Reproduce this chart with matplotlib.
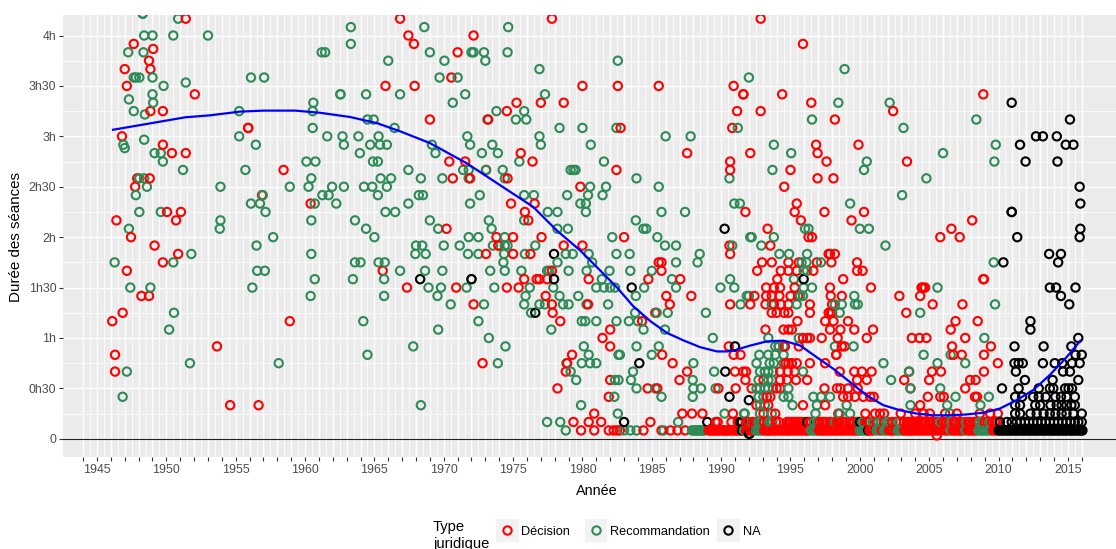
# -*- coding: utf-8 -*-
import numpy as np
import matplotlib
matplotlib.use('Agg')
import matplotlib.pyplot as plt
from matplotlib.patches import Rectangle
from matplotlib.lines import Line2D

plt.rcParams['font.family'] = ['Liberation Sans', 'DejaVu Sans']

W, H = 1116, 549
RED, GREEN, BLACK = '#FF0000', '#2E8B57', '#000000'

# durations in minutes, and for each one the years of the seances
dec_mins = [250, 240, 235, 232, 230, 225, 220, 215, 210, 205, 200, 195, 190, 185, 180, 175, 170, 165, 160, 155,
            150, 145, 140, 135, 130, 125, 120, 115, 110, 105, 100, 95, 90, 85, 80, 75, 70, 65, 60, 55, 50, 45,
            40, 35, 30, 25, 20, 15, 10, 5, 2]
dec_years = [
    [1951.4, 1966.85, 1977.8, 1992.85],
    [1967.45, 1972.15],
    [1947.65, 1967.85, 1995.9],
    [1949.05],
    [1971],
    [1948.75],
    [1947, 1948.85],
    [1970.55],
    [1947.15, 1965.8, 1967.9, 1980, 1982.55, 1985.5, 1990.9],
    [1952.05, 1991.6, 1991.6, 1994.4, 2008.9],
    [1975.25, 1977, 1978.65, 1996.5],
    [1948.85, 1949.75, 1974.55, 1991.15, 1992.85, 2002.4],
    [1969, 1973.2, 1998.2],
    [1955.9, 1955.9, 1982.75, 1990.8],
    [1946.8],
    [1949.75, 1996.85, 1999.9],
    [1950.4, 1951.4, 1975.55, 1987.55, 1992.1, 1996.95],
    [1970.4, 1971.55, 1976.4, 1990.65, 1997.6, 2003.4],
    [1958.45, 1973.05, 1982.45, 1990.65, 1995],
    [1947.9, 1948.8, 1970.65, 1971.9, 1974.6, 1996.95, 1998.1],
    [1947.75, 1979.85, 1994.55],
    [1956.9],
    [1960.4, 1974.85, 1976.55, 1995.45],
    [1950.05, 1951.05, 1975.85, 1991.75, 1995.3, 1997.45, 2000.3],
    [1946.4, 1950.7, 1976.1, 1995.75, 1999.4, 2008.1],
    [1970.2, 1993.35, 2006.6],
    [1947.45, 1973.8, 1975, 1977.05, 1983, 1996.3, 1996.55, 2005.8, 2007.2],
    [1949.15, 1973.95, 1973.95, 1978.65, 1980, 1990.6, 1993.55],
    [1950.85, 1973.05, 1975, 1976.25, 1990.65, 1997.75, 1997.85, 1998.2],
    [1949.75, 1985.5, 1985.7, 1992.95, 1993.65, 1994.85, 1995.6, 1996.9, 1997.95, 1999.8],
    [1947.15, 1965.6, 1977.8, 1985.7, 1992.6, 1994.3, 1994.85, 1995.45, 1996.65, 1999.8, 2000.2],
    [1975.8, 1976.7, 1976.9, 1977.45, 1980.45, 1984.75, 1987.05, 1994.05, 1998.8, 2008.9, 2008.95],
    [1967.35, 1970.9, 1974.55, 1975.4, 1993.25, 1993.8, 1994.25, 1995.3, 1997.85, 2000.8, 2004.45, 2004.7, 2004.55],
    [1948.2, 1948.75, 1977.35, 1986.05, 1987.85, 1992.4, 1993.25, 1993.65, 1994.2, 1995, 1995.55, 1997.9, 1998.7, 2002.85, 2004.35],
    [1972.15, 1977.8, 1980.4, 1986.3, 1990.65, 1992.1, 1993.2, 1993.8, 1994.3, 1994.85, 1996.4, 1998, 2005.25, 2007.4],
    [1946.85, 1977.85, 1985.25, 1993.65, 1994, 1994.55, 1994.85, 1996.4, 1997.75, 1997.9, 1998, 2003.35],
    [1946.1, 1958.9, 1978.4, 1984.3, 1995.5, 1997.5, 1998.1, 1999.15, 2006.9, 2008.5],
    [1982, 1993.2, 1994.5, 1994.85, 1995.1, 1997.85, 1998.6, 1999.6, 2000.95, 2006.55],
    [1981.45, 1995.9, 1996.2, 1996.4, 1997.25, 1998.4, 2000.5, 2003.75, 2004.3, 2004.8, 2007.6],
    [1953.65, 1982, 1990.55, 1994.15, 1994.6, 1995.6, 1998.7, 1998.9, 2006.65, 2009.45],
    [1946.3, 1979.25, 1985.75, 1990.9, 1991.4, 1998.3, 1998.3, 2006.75, 2007.35, 2008.95],
    [1972.8, 1978.9, 1986.5, 1994.65, 1994.85, 1995.1, 1995.45, 1996.4, 1997.5, 2009.95],
    [1946.3, 1978.8, 1987.55, 1991, 1991.6, 1991.8, 1994.25, 1994.8, 1995.3, 1998.55, 1999.6, 2000.15, 2000.85,
     2005.2, 2005.85, 2008.95, 2003.55],
    [1982, 1987, 1991.75, 1993.05, 1994.25, 1994.75, 1995.4, 1996.2, 1999.8, 2000.5, 2003.2, 2005, 2007.95, 2008.35],
    [1978.2, 1984.7, 1985.4, 1989.8, 1991.05, 1992.2, 1994, 1994.25, 1997.45, 1998.35, 1998.6, 1999.15, 1999.85,
     2003.65, 2007.6],
    [1981.9, 1993.3, 1993.55, 1998.8, 1999.15, 1999.65, 2000.25, 2000.75, 2001, 2004.9, 2005.8, 2006.05, 2008.3, 2008.45],
    [1954.6, 1956.65, 1992.55, 1993.4, 1995.9, 1997.5, 2004.35],
    [1980.85, 1987.2, 1987.9, 1988.65, 1990.85, 1993.05, 1993.9, 1998.45, 2000.4, 2001.1, 2001.45, 2001.75, 2002.95,
     2004, 2004.6, 2005.05, 2006.15, 2007, 2008.65, 2009.4, 2009.95],
    [1979.35, 1980.45, 1981.35, 1984.9, 1989.6, 1989.75, 1990.75, 1991.2, 1991.85, 1992, 1992.3, 1992.5, 1993.1,
     1993.35, 1993.95, 1994.15, 1994.75, 1994.9, 1995, 1995.15, 1995.3, 1995.45, 1995.6, 1995.75, 1995.9, 1996.35,
     1996.5, 1997.1, 1997.3, 1997.45, 1997.6, 1997.85, 1998, 1998.15, 1998.35, 1998.5, 1998.7, 1998.9, 1999.25,
     1999.45, 1999.6, 1999.8, 2000.5, 2000.7, 2001.2, 2001.75, 2002.35, 2002.6, 2003.2, 2003.4, 2003.55, 2003.7,
     2003.9, 2004.05, 2004.2, 2004.4, 2004.55, 2004.7, 2004.95, 2005.1, 2005.3, 2005.45, 2005.6, 2006, 2006.25,
     2006.45, 2006.75, 2006.9, 2007.2, 2007.35, 2007.55, 2007.8, 2008, 2008.25, 2008.45, 2009, 2009.2, 2009.55,
     2009.75, 2009.9],
    [1979.9, 1980.85, 1981.9, 1982.25, 1982.5, 1982.7, 1984.4, 1985.7, 1986.35, 1986.85, 1987.4, 1989.1, 1989.25,
     1989.4, 1989.5, 1989.6, 1989.7, 1989.8, 1989.95, 1990.05, 1990.2, 1990.3, 1990.4, 1990.55, 1990.65, 1990.8,
     1990.95, 1991.1, 1991.2, 1991.35, 1991.8, 1991.95, 1992.1, 1992.3, 1993.1, 1993.25, 1993.4, 1993.5, 1993.65,
     1993.8, 1993.95, 1994.1, 1994.25, 1994.4, 1994.55, 1994.7, 1994.85, 1994.95, 1995.1, 1995.25, 1995.4, 1995.55,
     1995.7, 1995.85, 1996, 1996.15, 1996.3, 1997.05, 1997.2, 1997.35, 1997.5, 1997.65, 1997.8, 1997.95, 1998.1,
     1998.25, 1998.4, 1998.55, 1998.7, 1998.85, 1999, 1999.15, 1999.3, 1999.45, 1999.6, 1999.75, 1999.9, 2000.7,
     2000.85, 2001, 2001.6, 2002.1, 2002.25, 2002.4, 2002.6, 2003.2, 2003.35, 2003.5, 2003.6, 2003.7, 2003.85, 2004,
     2004.15, 2004.3, 2004.45, 2004.6, 2004.75, 2004.9, 2005.05, 2005.2, 2005.35, 2005.5, 2005.65, 2005.8, 2006.1,
     2006.25, 2006.4, 2006.7, 2006.85, 2007, 2007.15, 2007.3, 2007.45, 2007.8, 2007.95, 2008.1, 2008.25, 2008.4,
     2009.6, 2009.75, 2009.9],
    [2005.55],
]

rec_mins = [253, 250, 245, 240, 235, 230, 225, 220, 215, 212, 210, 205, 202, 200, 195, 193, 190, 185, 180, 178, 175,
            173, 170, 165, 160, 155, 150, 145, 140, 135, 130, 125, 120, 115, 110, 105, 100, 95, 90, 85, 80, 75, 70,
            65, 60, 55, 50, 45, 40, 35, 30, 25, 20, 15, 10, 5]
rec_years = [
    [1948.3, 1948.3],
    [1950.85],
    [1963.3, 1968.6, 1974.65],
    [1948.4, 1949, 1950.5, 1953],
    [1963.3],
    [1947.25, 1948.35, 1961.2, 1961.45, 1969, 1972, 1972.15, 1972.9, 1974.6],
    [1966, 1970.05, 1973, 1982.55],
    [1976.9, 1998.9],
    [1947.65, 1947.8, 1948.05, 1949, 1956.1, 1957.05, 1969.7, 1971, 1992],
    [1951.4],
    [1949.8],
    [1949, 1962.55, 1962.55, 1964.4, 1966.85, 1971.55, 1977.3],
    [1947.3],
    [1949.05, 1960.6, 1970.65, 1998.45, 2002.15],
    [1947.65, 1955.25, 1960.55, 1973.8, 1975.8],
    [1948.45],
    [1964.5, 1964.95, 1973.15, 1975.2, 1975.95, 1996.55, 2008.4],
    [1960.55, 1966.45, 1978.35, 1980, 1982.45, 1991.2, 2003.15],
    [1955.25, 1961.6, 1962.7, 1963.85, 1965.3, 1971.7, 1976.9, 1986, 1987.8],
    [1948.4],
    [1946.9, 1956.45, 1962.8, 1964.7, 1965.4, 1965.9, 1969.15, 1971.9, 1973.5, 1977, 1980.6, 1993.8, 2009.8],
    [1947],
    [1949.15, 1949.6, 1963.95, 1969.4, 1972.75, 1973.9, 1995.05, 2006],
    [1949.75, 1960.1, 1960.75, 1964.9, 1965.25, 1975.45, 1981.55, 2000.5, 2009.7],
    [1951.2, 1955.7, 1967.45, 1971.4, 1971.8, 1973.05, 1974.25, 1979.15, 1979.35, 1979.5, 1993.7, 2000.3],
    [1948.05, 1948.4, 1960.45, 1965.45, 1966.2, 1968.35, 1969.9, 1971.8, 1974.4, 1983.9, 1990.6, 2004.8],
    [1948.6, 1953.9, 1958.9, 1960.25, 1961.95, 1962.8, 1964.25, 1964.85, 1965.9, 1980.55, 1981.7, 1985.5],
    [1947.8, 1956.95, 1961.25, 1961.7, 1965.25, 1968.2, 1968.5, 1972.6, 1975.8, 1976.5, 1978.9, 1980.4, 1981.45, 2003.05],
    [1956.1, 1956.75, 1960.7, 1962.25, 1967.45, 1971.9, 1979.85, 1980.25, 1990.95, 1991.35, 1999.3],
    [1948.05, 1949.6, 1957.15, 1965.8, 1966.5, 1977.5, 1978.2, 1980.25, 1985.7, 1987.4],
    [1953.9, 1960.45, 1963.6, 1969, 1973.25, 1975.8, 1983.85],
    [1947.3, 1953.85, 1964.4, 1969.6, 1973.45, 1978.2, 1978.95, 1984.4, 1984.6, 1996.05, 1996.3, 2000, 2000.65],
    [1957.7, 1965, 1971.8, 1972.5, 1974.4, 1982.15, 1985.4, 1992.1, 1992.2, 1993.8],
    [1956.5, 1968, 1968.45, 1970, 1971.15, 1973.55, 1974.4, 1974.6, 1976.6, 1985.95, 1986.75, 1990.8, 1992.9, 2001.85],
    [1951.8, 1960.45, 1967.95, 1968.7, 1971.75, 1972.5, 1974.35, 1975.85, 1978.8, 1979.3, 1980.45, 1982.45, 1983.4,
     1988.45, 1994.2, 1994.9, 1996.2],
    [1946.27, 1950.5, 1963.6, 1964, 1965.3, 1965.75, 1974.3, 1978.2, 1980.7, 1986.75, 1988.3, 1995.8, 1996.15, 1997.2, 2009.65],
    [1956.55, 1957.1, 1966.85, 1968.65, 1969.9, 1973.35, 1974.4, 1975.6, 1977.45, 1977.6, 1979, 1980.3, 1981.95,
     1983.45, 1985, 1995.95, 1996.2],
    [1960.7, 1963.45, 1965.7, 1972, 1981.4, 1986.45, 1990.65, 1995.25],
    [1947.4, 1948.85, 1956.2, 1968.9, 1969.8, 1971.65, 1973.65, 1976.2, 1977.9, 1981, 1981.55, 1982, 1982.35, 1984.45,
     1986.75, 1989.95, 1990.95, 1995.95, 1996.55, 2005.6],
    [1960.4, 1965.7, 1969.55, 1975.9, 1978.35, 1979.7, 1983.85, 1991.85, 1992, 1995.7, 1995.9, 1999.6],
    [1970.5, 1972.9, 1975.8, 1976.9, 1977.3, 1978.6, 1979, 1980.3, 1981.85, 1991.4, 1993.65, 1995.45, 1998.2, 1998.7,
     1999.65, 1999.85, 2009.75],
    [1950.55, 1976.3, 1983.8, 1985.35, 1986.15, 1988.9, 1998.55, 2004.35],
    [1964.2, 1972.5, 1979.95, 1980.2, 1981, 1982.45, 1983.35, 1984],
    [1950.2, 1969.6, 1977.75, 1984.4, 1985.95],
    [1973.25, 1989.4, 1993.4, 1995.6, 2008.98],
    [1967.8, 1974.45, 1980.1, 1983.9, 1985.5, 1993.9, 1994.15, 1994.5, 1998.2, 1999.55],
    [1964.5, 1980.45, 1982.6, 1982.7, 1985, 1992.75, 1993.4, 1993.9, 1994.5, 2004.6, 2006.55],
    [1951.7, 1958.1, 1973.9, 1978.85, 1979.95, 1980.55, 1981, 1988, 1992.55, 1993.5, 1993.8, 1994.5, 2001.7, 2005.6, 2007.6],
    [1947.15, 1979.15, 1983.65, 1989.5, 1992.8, 1993.15, 1993.4, 1993.75, 1995.9, 2003.55],
    [1979.55, 1982.35, 1982.6, 1983.5, 1987.95, 1992.7, 1993.4, 1993.65, 2002.25],
    [1983.9, 1985.25, 1988, 1988.55, 1989.6, 1992.55, 1992.8, 1993.15, 1993.4, 1993.75, 1994.85, 2003.65, 2005.8],
    [1946.85, 1982.3, 1985.7, 1987.95, 1992.7, 1993.05, 1994.5, 1994.85, 1996.65, 1997.2, 1997.85, 2006.9, 2009.3],
    [1968.35, 1979.9, 1992.8, 1993.15, 1995.15, 1996.9, 1999.05, 2003.65, 2006.3, 2008.7],
    [1982.55, 1990.25, 1991.65, 1991.7, 1992.8, 1993.65, 1996.8, 1998.55, 1999.3, 2006.5],
    [1977.45, 1978.4, 1986.9, 1992.2, 1992.7, 1992.9, 1993, 1993.5, 1993.7, 1996.7, 1996.9, 1997, 1998.2, 1999.95,
     2000.2, 2000.95, 2001.35, 2001.55, 2001.95, 2002.15, 2002.85, 2005.8, 2006.6, 2007.65, 2008.65, 2008.85, 2009.35],
    [1978.8, 1983, 1983.45, 1983.9, 1985.85, 1987.9, 1988, 1988.1, 1988.2, 1988.3, 1988.4, 1988.5, 1988.6, 1988.7,
     1988.8, 1991.5, 1991.65, 1992.5, 1992.65, 1992.8, 1992.95, 1996.5, 1996.65, 1996.8, 1996.95, 2000, 2000.15,
     2000.3, 2000.45, 2001.2, 2001.4, 2001.75, 2001.9, 2002.75, 2002.9, 2003.05, 2006.55, 2007.6, 2008.55, 2008.7,
     2008.85, 2009, 2009.15, 2009.3, 2009.45],
]

na_mins = [200, 190, 180, 175, 165, 150, 140, 135, 125, 120, 110, 105, 95, 90, 85, 80, 75, 70, 65, 60, 55, 50, 45,
           40, 35, 30, 25, 23, 20, 15, 10, 5, 3]
na_years = [
    [2010.95],
    [2015.15],
    [2012.7, 2013.2, 2014.2],
    [2011.55, 2014.85, 2015.4],
    [2011.95, 2014.25],
    [2015.85],
    [2015.9],
    [2010.95, 2010.95],
    [1990.25, 2015.9],
    [2011.35, 2015.85],
    [1977.95, 2013.65, 2014.5],
    [2010.35, 2014.3],
    [1968.3, 1972, 1977.95, 1995.95],
    [1983.55, 2013.7, 2014.15, 2015.55],
    [2014.5],
    [2015.1],
    [1976.6],
    [2012.3],
    [2012.3],
    [2015.75],
    [1991, 2011.15, 2013.25, 2015.25],
    [2015.55, 2016],
    [1984.1, 2011.15, 2011.45, 2011.75, 2013.2, 2014.05, 2014.6, 2015.3, 2015.85],
    [1990.3, 2011.25, 2014.65, 2015.15],
    [2011.9, 2013.9, 2015.75],
    [2010.25, 2011.45, 2012.9, 2013.7, 2013.95, 2014.8, 2015.05, 2015.3],
    [1990.6, 2011.2, 2011.7, 2012.5, 2012.9, 2013.4, 2014.1, 2014.5, 2014.9, 2015.5],
    [1992],
    [2011.2, 2011.55, 2012.65, 2013, 2013.75, 2014.2, 2014.55, 2014.9, 2015.25, 2015.5],
    [2011.2, 2011.55, 2012.3, 2012.75, 2013.25, 2013.7, 2014.1, 2014.55, 2014.9, 2015.4, 2016],
    [1983, 1989, 1991.4, 1991.5, 1996.2, 2000, 2010.1, 2010.6, 2010.95, 2011.3, 2011.6, 2011.9, 2012.2, 2012.5, 2012.8,
     2013.1, 2013.4, 2013.7, 2014, 2014.3, 2014.6, 2014.9, 2015.2, 2015.5, 2015.75, 2016],
    [1991.5, 2000.6, 2010, 2010.12, 2010.25, 2010.37, 2010.5, 2010.62, 2010.75, 2010.87, 2011, 2011.12, 2011.25, 2011.37,
     2011.5, 2011.62, 2011.75, 2011.87, 2012, 2012.12, 2012.25, 2012.37, 2012.5, 2012.62, 2012.75, 2012.87, 2013, 2013.12,
     2013.25, 2013.37, 2013.5, 2013.62, 2013.75, 2013.87, 2014, 2014.12, 2014.25, 2014.37, 2014.5, 2014.62, 2014.75,
     2014.87, 2015, 2015.12, 2015.25, 2015.37, 2015.5, 2015.62, 2015.75, 2015.87, 2016, 2016.05],
    [1992, 1992.05],
]

smooth_years = [1946.15, 1951.35, 1953.15, 1955.3, 1957, 1959.3, 1961.1, 1963.25, 1965.2, 1966.85, 1969, 1971.65, 1974.05,
                1976.45, 1978.15, 1979.85, 1981.3, 1982.5, 1983.65, 1984.9, 1986.1, 1987.3, 1988.5, 1989.7, 1990.4,
                1990.9, 1992.1, 1993.3, 1994.5, 1995.7, 1996.9, 1998.1, 1999.3, 2000.5, 2001.7, 2002.9, 2004.1, 2005.3,
                2006.5, 2007.7, 2008.9, 2010.1, 2011.3, 2012.5, 2013.7, 2014.9, 2015.9]
smooth_mins = [183.9, 191.3, 192.5, 194.7, 195.3, 195.3, 194, 191.5, 187.8, 183, 176, 164, 151, 138, 124, 112, 100, 90,
               79, 70, 63, 58.5, 54.5, 52, 52, 52.5, 55.5, 58, 58.4, 55.5, 48.5, 41.6, 33.7, 25.8, 20, 17, 15, 14, 14,
               14.5, 15.5, 18, 23, 29, 38, 48.5, 58.4]

y_ticks = [0, 30, 60, 90, 120, 150, 180, 210, 240]
y_labels = ['0', '0h30', '1h', '1h30', '2h', '2h30', '3h', '3h30', '4h']
legend_labels = ['Décision', 'Recommandation', 'NA']

# flatten the rows, keep the order of time so later seances are drawn on top
xs, ys, cols = [], [], []
for mins, years, col in [(dec_mins, dec_years, RED), (rec_mins, rec_years, GREEN), (na_mins, na_years, BLACK)]:
    for m, row in zip(mins, years):
        for yr in row:
            xs.append(yr)
            ys.append(m)
            cols.append(col)
order = np.argsort(xs, kind='stable')
xs = np.array(xs)[order]
ys = np.array(ys)[order]
cols = [cols[i] for i in order]

fig = plt.figure(figsize=(W / 100, H / 100), dpi=100)
ax = fig.add_axes([63.3 / W, 1 - 457.3 / H, 1 - 63.3 / W, (457.3 - 15) / H])
ax.set_facecolor('#EBEBEB')
for s in ax.spines.values():
    s.set_visible(False)
ax.set_xlim(1942.57, 2018.47)
ax.set_ylim(-11, 252.2)

years_all = np.arange(1944, 2017)
ax.set_xticks(years_all)
ax.set_xticklabels([str(y) if y % 5 == 0 else '' for y in years_all])
ax.set_xticks(years_all[:-1] + 0.5, minor=True)
ax.set_yticks(y_ticks)
ax.set_yticklabels(y_labels)
ax.set_yticks(np.array(y_ticks[:-1]) + 15, minor=True)
ax.grid(which='major', color='white', lw=1.0)
ax.grid(which='minor', color='white', lw=0.55)
ax.set_axisbelow(True)
ax.tick_params(which='major', length=2.6, width=0.8, color='#333333', labelcolor='#4D4D4D', labelsize=8.9, pad=2.5)
ax.tick_params(which='minor', length=0)

ax.axhline(0, color='#222222', lw=0.8, zorder=1.5)
ax.scatter(xs, ys, s=36, facecolors='none', edgecolors=cols, linewidths=1.5, zorder=2)
ax.plot(smooth_years, smooth_mins, color='#0000FF', lw=1.6, zorder=3)

fig.text(597 / W, 1 - 491 / H, 'Année', ha='center', va='center', fontsize=10.4)
fig.text(16 / W, 1 - 237 / H, 'Durée des séances', rotation=90, ha='center', va='center', fontsize=10.9)

# legend, placed by hand because it is cut off by the bottom edge
fig.text(433 / W, 1 - 520.5 / H, 'Type\njuridique', ha='left', va='top', fontsize=10.6, linespacing=1.25)
key_lefts = [496, 584.7, 717]
for left, lab, col in zip(key_lefts, legend_labels, [RED, GREEN, BLACK]):
    fig.add_artist(Rectangle((left / W, 1 - 541.7 / H), 22.5 / W, 22.7 / H, transform=fig.transFigure,
                             facecolor='#F2F2F2', edgecolor='none'))
    fig.add_artist(Line2D([(left + 11.3) / W], [1 - 530 / H], transform=fig.transFigure, marker='o', ms=6,
                          mfc='none', mec=col, mew=1.5, ls='none'))
    fig.text((left + 25.5) / W, 1 - 532 / H, lab, ha='left', va='center', fontsize=9.2)

fig.savefig('out.png', dpi=100)
